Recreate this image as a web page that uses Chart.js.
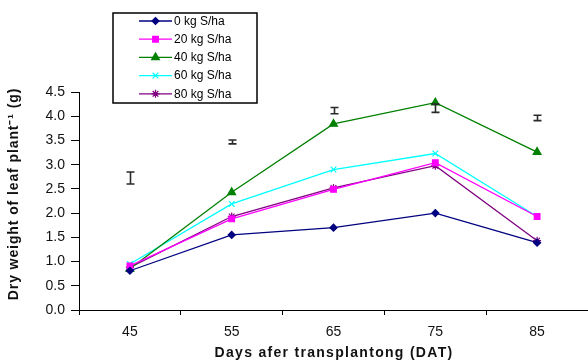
<!DOCTYPE html>
<html>
<head>
<meta charset="utf-8">
<script src="https://cdn.jsdelivr.net/npm/chart.js@4/dist/chart.umd.min.js"></script>
<style>
  html, body { margin: 0; padding: 0; background: #fff; }
  #wrap { width: 588px; height: 363px; position: relative; }
</style>
</head>
<body>
<div id="wrap"><canvas id="c"></canvas></div>
<script>
// Days after transplanting
const days = ['45', '55', '65', '75', '85'];

// Leaf dry weight (g per plant) for each sulphur rate
const s0  = [0.81, 1.55, 1.70, 2.00, 1.39];
const s20 = [0.91, 1.88, 2.49, 3.04, 1.93];
const s40 = [0.85, 2.43, 3.84, 4.28, 3.26];
const s60 = [0.95, 2.19, 2.90, 3.23, 1.93];
const s80 = [0.88, 1.93, 2.52, 2.98, 1.43];

// LSD bars drawn above each sampling date (low / high ends)
const lsdLow  = [2.60, 3.43, 4.05, 4.08, 3.91];
const lsdHigh = [2.85, 3.51, 4.18, 4.25, 4.02];

const yTicks = [0, 0.5, 1, 1.5, 2, 2.5, 3, 3.5, 4, 4.5];

const xTitle = 'Days afer transplantong (DAT)';
const yTitle = 'Dry weight of leaf plant\u207B\u00B9 (g)';

const FONT = '"Liberation Sans", Arial, sans-serif';

function series(label, data, color, style, radius) {
  return {
    label, data,
    borderColor: color, backgroundColor: color,
    pointStyle: style, pointRadius: radius, pointHoverRadius: radius,
    pointBorderColor: color, pointBackgroundColor: color,
    pointBorderWidth: 1.2,
    borderWidth: 1.3, tension: 0, fill: false, clip: false
  };
}

// LSD bars (I-shapes) placed through the chart's own scales
const lsdPlugin = {
  id: 'lsdBars',
  afterDatasetsDraw(chart) {
    const { ctx, scales: { x, y } } = chart;
    ctx.save();
    ctx.strokeStyle = '#2a2a2a';
    ctx.lineWidth = 1.6;
    days.forEach((d, i) => {
      const px = Math.round(x.getPixelForValue(i)) + 0.5;
      const y1 = y.getPixelForValue(lsdLow[i]);
      const y2 = y.getPixelForValue(lsdHigh[i]);
      ctx.beginPath();
      ctx.moveTo(px, y1); ctx.lineTo(px, y2);
      ctx.moveTo(px - 4, y1); ctx.lineTo(px + 4, y1);
      ctx.moveTo(px - 4, y2); ctx.lineTo(px + 4, y2);
      ctx.stroke();
    });
    ctx.restore();
  }
};

// Axis titles, drawn with a little letter spacing
const titlePlugin = {
  id: 'axisTitles',
  afterDraw(chart) {
    const ctx = chart.ctx;
    ctx.save();
    ctx.fillStyle = '#111';
    ctx.font = 'bold 14px ' + FONT;
    ctx.textAlign = 'center';
    ctx.textBaseline = 'middle';
    ctx.letterSpacing = '1.3px';
    ctx.fillText(xTitle, 334, 353);
    ctx.letterSpacing = '0.9px';
    ctx.translate(14, 194);
    ctx.rotate(-Math.PI / 2);
    ctx.fillText(yTitle, 0, 0);
    ctx.restore();
  }
};

// Boxed legend sitting over the upper left of the plot
const boxLegend = {
  id: 'boxLegend',
  afterDraw(chart) {
    const ctx = chart.ctx;
    const bx = 113, by = 13, bw = 144, bh = 90;
    ctx.save();
    ctx.fillStyle = '#fff';
    ctx.fillRect(bx, by, bw, bh);
    ctx.strokeStyle = '#000';
    ctx.lineWidth = 1.5;
    ctx.strokeRect(bx, by, bw, bh);
    ctx.font = '12px ' + FONT;
    ctx.textBaseline = 'middle';
    chart.data.datasets.forEach((ds, i) => {
      const yy = by + 8 + i * 18.2;
      ctx.strokeStyle = ds.borderColor;
      ctx.fillStyle = ds.backgroundColor;
      ctx.lineWidth = 1.3;
      ctx.beginPath();
      ctx.moveTo(139, yy); ctx.lineTo(172, yy);
      ctx.stroke();
      ctx.lineWidth = 1.2;
      Chart.helpers.drawPoint(ctx, {
        pointStyle: ds.pointStyle, radius: ds.pointRadius, borderWidth: 1.2, rotation: 0
      }, 155.5, yy);
      ctx.fillStyle = '#000';
      ctx.fillText(ds.label, 174, yy + 0.5);
    });
    ctx.restore();
  }
};

new Chart(document.getElementById('c'), {
  type: 'line',
  data: {
    labels: days,
    datasets: [
      series('0 kg S/ha',  s0,  '#000080', 'rectRot', 3.5),
      series('20 kg S/ha', s20, '#FF00FF', 'rect', 4),
      series('40 kg S/ha', s40, '#008000', 'triangle', 4.5),
      series('60 kg S/ha', s60, '#00FFFF', 'crossRot', 4),
      series('80 kg S/ha', s80, '#800080', 'star', 4)
    ]
  },
  options: {
    responsive: true,
    maintainAspectRatio: false,
    animation: false,
    layout: { autoPadding: false, padding: { top: 92, right: 0, left: 0, bottom: 0 } },
    plugins: {
      legend: { display: false },
      tooltip: { enabled: false }
    },
    scales: {
      x: {
        offset: true,
        afterFit(axis) { axis.height = 53; axis.paddingLeft = 0; axis.paddingRight = 0; },
        grid: { offset: true, drawOnChartArea: false, drawTicks: true, tickLength: 5, color: '#000', lineWidth: 1 },
        border: { display: true, color: '#000', width: 1 },
        ticks: { color: '#111', padding: 9, font: { family: FONT, size: 14 } }
      },
      y: {
        min: 0, max: 4.5,
        afterFit(axis) { axis.width = 79; },
        afterBuildTicks(axis) { axis.ticks = yTicks.map(v => ({ value: v })); },
        grid: { drawOnChartArea: false, drawTicks: true, tickLength: 8, color: '#000' },
        border: { display: true, color: '#000', width: 1 },
        ticks: {
          color: '#111', padding: 6,
          font: { family: FONT, size: 14 },
          callback: v => Number(v).toFixed(1)
        }
      }
    }
  },
  plugins: [lsdPlugin, titlePlugin, boxLegend]
});
</script>
</body>
</html>
